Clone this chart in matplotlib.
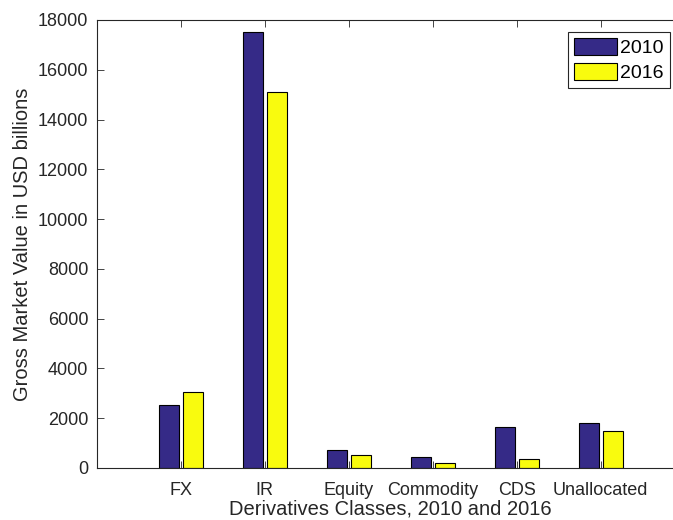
import numpy as np
import matplotlib.pyplot as plt

# Gross market value of OTC derivatives by class, 2010 vs 2016 (USD billions)
categories = ["FX", "IR", "Equity", "Commodity", "CDS", "Unallocated"]
years = ["2010", "2016"]
values_2010 = [2550, 17530, 706, 453, 1657, 1789]
values_2016 = [3060, 15105, 521, 200, 361, 1468]

BLUE = "#352a87"
YELLOW = "#f9fb0e"
TEXT = "#262626"

plt.rcParams["font.family"] = ["Liberation Sans", "DejaVu Sans"]

fig = plt.figure(figsize=(6.73, 5.2), dpi=100)
# axes run a little past the right edge of the canvas
ax = fig.add_axes([96.7 / 673, 52 / 520, 588 / 673, 448 / 520])

x = np.arange(1, len(categories) + 1)
offset = 0.143
width = 0.235

ax.bar(x - offset, values_2010, width, color=BLUE, edgecolor="black",
       linewidth=0.8, label=years[0], zorder=2)
ax.bar(x + offset, values_2016, width, color=YELLOW, edgecolor="black",
       linewidth=0.8, label=years[1], zorder=2)

ax.set_xlim(0, 7)
ax.set_ylim(0, 18000)
ax.set_xticks(x)
ax.set_xticklabels(categories)
ax.set_yticks(np.arange(0, 18001, 2000))

ax.tick_params(direction="in", length=5, width=0.6, colors=TEXT,
               labelsize=13, top=True, right=True)
ax.tick_params(axis="x", pad=10)
ax.tick_params(axis="y", pad=6)
for spine in ax.spines.values():
    spine.set_color(TEXT)
    spine.set_linewidth(0.8)

ax.set_xlabel("Derivatives Classes, 2010 and 2016", fontsize=14.5,
              color=TEXT, labelpad=0.5)
ax.set_ylabel("Gross Market Value in USD billions", fontsize=14.5,
              color=TEXT, labelpad=4.5)

leg = ax.legend(loc="upper right", bbox_to_anchor=(669.5 / 673, 1 - 32 / 520),
                bbox_transform=fig.transFigure, fontsize=14,
                fancybox=False, framealpha=1, borderpad=0.3,
                handlelength=2.25, handleheight=0.95, handletextpad=0.15,
                labelspacing=0.3, borderaxespad=0)
leg.get_frame().set_edgecolor(TEXT)
leg.get_frame().set_linewidth(0.8)
for t in leg.get_texts():
    t.set_color("black")

fig.savefig("out.png", dpi=100)
